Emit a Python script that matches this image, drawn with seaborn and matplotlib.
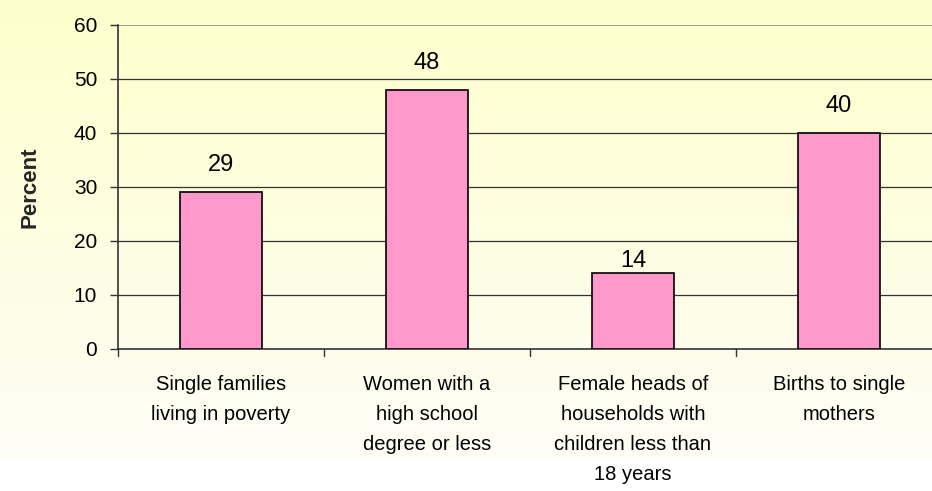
import numpy as np
import pandas as pd
import matplotlib
matplotlib.use('Agg')
import matplotlib.pyplot as plt
import seaborn as sns
from matplotlib.colors import LinearSegmentedColormap

# data
categories = ['Single families\nliving in poverty',
              'Women with a\nhigh school\ndegree or less',
              'Female heads of\nhouseholds with\nchildren less than\n18 years',
              'Births to single\nmothers']
percent = [29, 48, 14, 40]
yticks = [0, 10, 20, 30, 40, 50, 60]

df = pd.DataFrame({'category': categories, 'percent': percent})

sns.set_style('white')
plt.rcParams['font.family'] = ['Liberation Sans', 'DejaVu Sans']
plt.rcParams['text.color'] = 'black'
plt.rcParams['xtick.color'] = 'black'
plt.rcParams['ytick.color'] = 'black'

fig = plt.figure(figsize=(9.32, 4.91), dpi=100)

# yellow to cream background gradient
bg = fig.add_axes([0, 0, 1, 1], zorder=-5)
cmap = LinearSegmentedColormap.from_list('bg', ['#FFFFCC', '#FDFDF6'])
grad = np.linspace(0, 1, 256).reshape(-1, 1)
bg.imshow(grad, aspect='auto', cmap=cmap, extent=[0, 1, 0.063, 1], origin='upper')
bg.set_xlim(0, 1)
bg.set_ylim(0, 1)
bg.axis('off')

# axes runs past the right edge of the picture, like the original
ax = fig.add_axes([118/932, 1 - 349/491, 824/932, 324/491])
ax.patch.set_alpha(0)

sns.barplot(data=df, x='category', y='percent', ax=ax, color='#FF99CC',
            saturation=1, width=0.4, edgecolor='black', linewidth=1.2, zorder=3)

# label gaps above bars (the 14 label sits right on its bar in the original)
gaps = [3.0, 3.0, 0.3, 3.0]
for i, v in enumerate(percent):
    ax.text(i, v + gaps[i], str(v), ha='center', va='bottom', fontsize=17, zorder=4)

ax.set_ylim(0, 60)
ax.set_xlim(-0.5, 3.5)
ax.set_yticks(yticks)
ax.set_yticklabels([str(t) for t in yticks], fontsize=15)
for t in yticks[1:-1]:
    ax.axhline(t, color='#333333', linewidth=0.9, zorder=1)
ax.axhline(60, color='#888888', linewidth=1.2, zorder=1)

ax.set_xticks(range(len(categories)))
ax.set_xticklabels(categories, fontsize=14.5, linespacing=1.72, va='top')
ax.tick_params(axis='x', length=0, pad=19)
ax.tick_params(axis='y', length=6, width=1, color='#333333', left=True, pad=9)
# category boundary ticks
for b in [-0.5, 0.5, 1.5, 2.5, 3.5]:
    ax.plot([b, b], [0, -1.3], color='#333333', linewidth=1, clip_on=False)

ax.set_xlabel('')
ax.set_ylabel('Percent', fontsize=16, fontweight='bold', labelpad=24)

for s in ['top', 'right']:
    ax.spines[s].set_visible(False)
ax.spines['left'].set_color('#333333')
ax.spines['bottom'].set_color('#333333')
ax.spines['left'].set_linewidth(1.2)
ax.spines['bottom'].set_linewidth(1.2)

fig.savefig('out.png', dpi=100)
